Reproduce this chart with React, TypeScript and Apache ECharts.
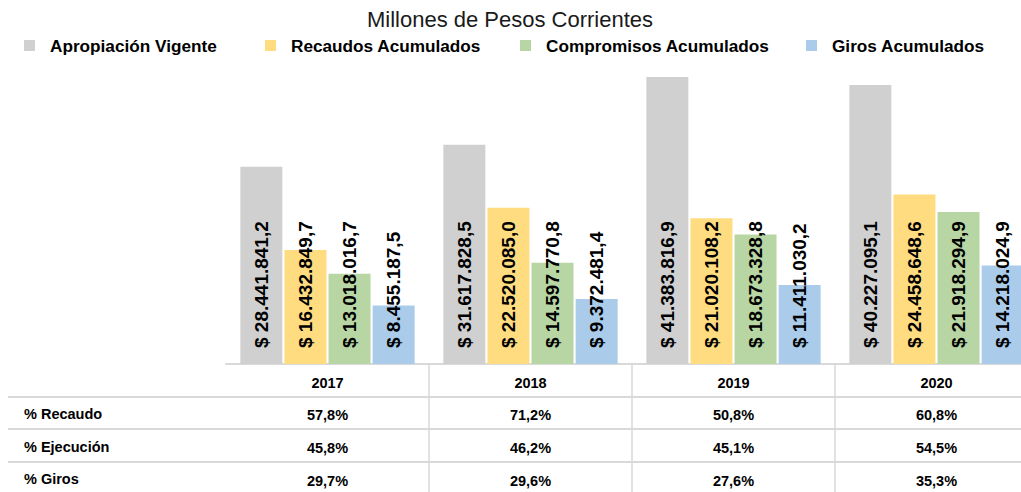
import React, { useEffect, useRef } from "react";
import * as echarts from "echarts";

const categories = ["2017", "2018", "2019", "2020"];
const seriesNames = ["Apropiación Vigente", "Recaudos Acumulados", "Compromisos Acumulados", "Giros Acumulados"];
const apropiacion = [28441841.2, 31617828.5, 41383816.9, 40227095.1];
const recaudos = [16432849.7, 22520085.0, 21020108.2, 24458648.6];
const compromisos = [13018016.7, 14597770.8, 18673328.8, 21918294.9];
const giros = [8455187.5, 9372481.4, 11411030.2, 14218024.9];
const rowLabels = ["% Recaudo", "% Ejecución", "% Giros"];
const pctRecaudo = ["57,8%", "71,2%", "50,8%", "60,8%"];
const pctEjecucion = ["45,8%", "46,2%", "45,1%", "54,5%"];
const pctGiros = ["29,7%", "29,6%", "27,6%", "35,3%"];
const subtitle = "Millones de Pesos Corrientes";

const colors = ["#D0D0D0", "#FFDC80", "#B8D6A4", "#AACBEA"];
const legendLeft = [24, 265, 520, 806];
const ARIAL = "'Liberation Sans', Arial, sans-serif";

function fmt(v: number): string {
  const [i, d] = v.toFixed(1).split(".");
  return "$ " + i.replace(/\B(?=(\d{3})+(?!\d))/g, ".") + "," + d;
}

export default function App() {
  const ref = useRef<HTMLDivElement>(null);
  useEffect(() => {
    if (!ref.current) return;
    const chart = echarts.init(ref.current, null, { renderer: "svg" });
    const values = [apropiacion, recaudos, compromisos, giros];
    const rowY = [414, 447, 479];
    const lineY = [397, 429, 462];
    const base = { fontFamily: ARIAL, fontSize: 14.5, fontWeight: "bold" as const, color: "#000" };
    chart.setOption({
      animation: false,
      backgroundColor: "#ffffff",
      legend: seriesNames.map((n, i) => ({
        data: [n],
        left: legendLeft[i],
        top: 37,
        padding: 0,
        icon: "rect",
        itemWidth: 11,
        itemHeight: 11,
        selectedMode: false,
        textStyle: {
          fontFamily: ARIAL,
          fontSize: 17.2,
          fontWeight: "bold",
          color: "#000",
          padding: [0, 0, 0, 10],
        },
      })),
      grid: { left: 226, top: 52, width: 812, height: 312, containLabel: false },
      xAxis: {
        type: "category",
        data: categories,
        boundaryGap: true,
        axisLine: { show: true, lineStyle: { color: "#D9D9D9", width: 2 } },
        axisTick: {
          show: true,
          length: 132,
          interval: (i: number) => i !== 0,
          lineStyle: { color: "#D9D9D9", width: 1.5 },
        },
        axisLabel: {
          interval: 0,
          margin: 3,
          formatter: (v: string, idx: number) =>
            `{h|${v}}\n{v|${pctRecaudo[idx]}}\n{v|${pctEjecucion[idx]}}\n{v|${pctGiros[idx]}}`,
          rich: { h: { ...base, lineHeight: 31 }, v: { ...base, lineHeight: 33 } },
        },
      },
      yAxis: { type: "value", min: 0, max: 45000000, show: false },
      series: values.map((arr, i) => ({
        name: seriesNames[i],
        type: "bar",
        data: arr,
        barWidth: 42,
        barGap: "5%",
        itemStyle: { color: colors[i] },
        label: {
          show: true,
          position: "insideBottom",
          distance: 16,
          rotate: 90,
          align: "left",
          verticalAlign: "middle",
          formatter: (p: any) => fmt(p.value),
          fontFamily: ARIAL,
          fontSize: 19,
          fontWeight: "bold",
          color: "#000",
        },
      })),
      graphic: [
        {
          type: "text",
          x: 510,
          y: 8,
          style: {
            text: subtitle,
            fontFamily: ARIAL,
            fontSize: 22,
            fill: "#1a1a1a",
            textAlign: "center",
            textVerticalAlign: "top",
          },
        },
        ...lineY.map((y) => ({
          type: "line",
          shape: { x1: 8, y1: y, x2: 1021, y2: y },
          style: { stroke: "#D9D9D9", lineWidth: 2 },
          z: 10,
        })),
        ...rowLabels.map((t, i) => ({
          type: "text",
          x: 24,
          y: rowY[i],
          style: {
            text: t,
            fontFamily: ARIAL,
            fontSize: 14.5,
            fontWeight: "bold",
            fill: "#000",
            textVerticalAlign: "middle",
          },
          z: 10,
        })),
      ],
    });
    return () => chart.dispose();
  }, []);
  return <div ref={ref} style={{ position: "fixed", left: 0, top: 0, width: 1060, height: 492 }} />;
}
